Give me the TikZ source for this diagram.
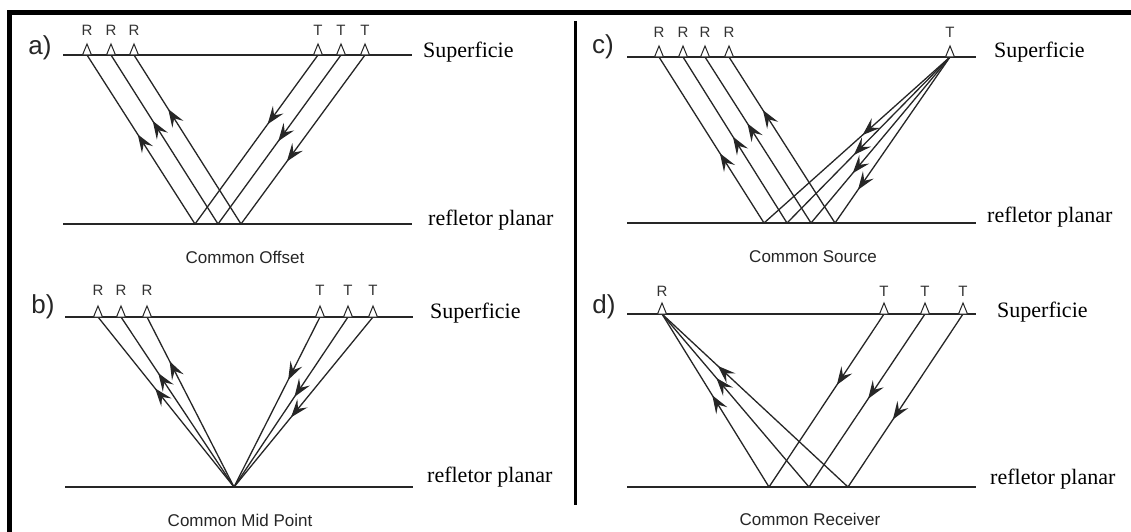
\documentclass[tikz,border=0pt]{standalone}
\usepackage{fontspec}
\setmainfont{Liberation Serif}
\newfontfamily\sansf{Liberation Sans}
\usetikzlibrary{arrows.meta,decorations.markings}
\begin{document}
\begin{tikzpicture}[x=1pt,y=-1pt,
  ground/.style={line width=1.5pt, draw=black!85},
  raypath/.style={line width=1.3pt, draw=black!85, postaction={decorate},
    decoration={markings, mark=at position #1 with {\arrow[black!85]{Stealth[length=18pt,width=13pt,inset=7pt]}}}},
  sensorlab/.style={font=\sansf\fontsize{15}{15}\selectfont, inner sep=0pt, text=black!80},
  panellab/.style={font=\sansf\fontsize{26}{26}\selectfont, inner sep=0pt, text=black!85},
  captionlab/.style={font=\sansf\fontsize{17}{17}\selectfont, inner sep=0pt, text=black!85},
  layerlab/.style={font=\fontsize{22}{22}\selectfont, inner sep=0pt, anchor=west},
  sensor/.pic={\draw[line width=1pt, draw=black!85, fill=white] (-4.5,0) -- (0,-11) -- (4.5,0) -- cycle;}
]
\useasboundingbox (0,0) rectangle (1131,532);
\fill[white] (0,0) rectangle (1131,532);
% frame and divider
\coordinate (frA) at (9.5,532);
\coordinate (frB) at (9.5,12.5);
\coordinate (frC) at (1131,12.5);
\draw[line width=5pt] (frA) -- (frB) -- (frC);
\coordinate (dvA) at (575.5,21);
\coordinate (dvB) at (575.5,505);
\draw[line width=2.5pt] (dvA) -- (dvB);

% ================= panel a =================
\node[panellab] (alab) at (40,48) {a)};
\coordinate (aS1) at (63,55);  \coordinate (aS2) at (412,55);
\coordinate (aF1) at (63,224); \coordinate (aF2) at (412,224);
\draw[ground] (aS1) -- (aS2);
\draw[ground] (aF1) -- (aF2);
\node[layerlab] (asup) at (423,52) {Superficie};
\node[layerlab] (aref) at (428,220) {refletor planar};
\coordinate (aR1) at (87,55);  \coordinate (aR2) at (111,55);  \coordinate (aR3) at (134,55);
\coordinate (aT1) at (318,55); \coordinate (aT2) at (341,55);  \coordinate (aT3) at (365,55);
\coordinate (aP1) at (195,224); \coordinate (aP2) at (218,224); \coordinate (aP3) at (241,224);
\draw[raypath=0.53] (aP1) -- (aR1);
\draw[raypath=0.61] (aP2) -- (aR2);
\draw[raypath=0.68] (aP3) -- (aR3);
\draw[raypath=0.41] (aT1) -- (aP1);
\draw[raypath=0.51] (aT2) -- (aP2);
\draw[raypath=0.63] (aT3) -- (aP3);
\foreach \n in {aR1,aR2,aR3,aT1,aT2,aT3} \pic at (\n) {sensor};
\node[sensorlab] (aRl1) at (87,30) {R};
\node[sensorlab] (aRl2) at (111,30) {R};
\node[sensorlab] (aRl3) at (134,30) {R};
\node[sensorlab] (aTl1) at (318,30) {T};
\node[sensorlab] (aTl2) at (341,30) {T};
\node[sensorlab] (aTl3) at (365,30) {T};
\node[captionlab] (acap) at (245,257) {Common Offset};

% ================= panel b =================
\node[panellab] (blab) at (43,307) {b)};
\coordinate (bS1) at (65,317);  \coordinate (bS2) at (413,317);
\coordinate (bF1) at (65,487);  \coordinate (bF2) at (413,487);
\draw[ground] (bS1) -- (bS2);
\draw[ground] (bF1) -- (bF2);
\node[layerlab] (bsup) at (430,313) {Superficie};
\node[layerlab] (bref) at (427,477) {refletor planar};
\coordinate (bR1) at (98,317);  \coordinate (bR2) at (121,317); \coordinate (bR3) at (147,317);
\coordinate (bT1) at (320,317); \coordinate (bT2) at (348,317); \coordinate (bT3) at (373,317);
\coordinate (bP) at (234,487);
\draw[raypath=0.58] (bP) -- (bR1);
\draw[raypath=0.67] (bP) -- (bR2);
\draw[raypath=0.74] (bP) -- (bR3);
\draw[raypath=0.37] (bT1) -- (bP);
\draw[raypath=0.47] (bT2) -- (bP);
\draw[raypath=0.59] (bT3) -- (bP);
\foreach \n in {bR1,bR2,bR3,bT1,bT2,bT3} \pic at (\n) {sensor};
\node[sensorlab] (bRl1) at (98,290) {R};
\node[sensorlab] (bRl2) at (121,290) {R};
\node[sensorlab] (bRl3) at (147,290) {R};
\node[sensorlab] (bTl1) at (320,290) {T};
\node[sensorlab] (bTl2) at (348,290) {T};
\node[sensorlab] (bTl3) at (373,290) {T};
\node[captionlab] (bcap) at (240,520) {Common Mid Point};

% ================= panel c =================
\node[panellab] (clab) at (603,47) {c)};
\coordinate (cS1) at (627,57);  \coordinate (cS2) at (976,57);
\coordinate (cF1) at (627,223); \coordinate (cF2) at (976,223);
\draw[ground] (cS1) -- (cS2);
\draw[ground] (cF1) -- (cF2);
\node[layerlab] (csup) at (994,52) {Superficie};
\node[layerlab] (cref) at (987,217) {refletor planar};
\coordinate (cR1) at (659,57); \coordinate (cR2) at (683,57);
\coordinate (cR3) at (705,57); \coordinate (cR4) at (729,57);
\coordinate (cT) at (950,57);
\coordinate (cP1) at (764,223); \coordinate (cP2) at (787,223);
\coordinate (cP3) at (811,223); \coordinate (cP4) at (835,223);
\draw[raypath=0.42] (cP1) -- (cR1);
\draw[raypath=0.52] (cP2) -- (cR2);
\draw[raypath=0.60] (cP3) -- (cR3);
\draw[raypath=0.68] (cP4) -- (cR4);
\draw[raypath=0.47] (cT) -- (cP1);
\draw[raypath=0.59] (cT) -- (cP2);
\draw[raypath=0.70] (cT) -- (cP3);
\draw[raypath=0.80] (cT) -- (cP4);
\foreach \n in {cR1,cR2,cR3,cR4,cT} \pic at (\n) {sensor};
\node[sensorlab] (cRl1) at (659,32) {R};
\node[sensorlab] (cRl2) at (683,32) {R};
\node[sensorlab] (cRl3) at (705,32) {R};
\node[sensorlab] (cRl4) at (729,32) {R};
\node[sensorlab] (cTl) at (950,32) {T};
\node[captionlab] (ccap) at (813,257) {Common Source};

% ================= panel d =================
\node[panellab] (dlab) at (604,307) {d)};
\coordinate (dS1) at (627,314); \coordinate (dS2) at (976,314);
\coordinate (dF1) at (627,487); \coordinate (dF2) at (976,487);
\draw[ground] (dS1) -- (dS2);
\draw[ground] (dF1) -- (dF2);
\node[layerlab] (dsup) at (997,312) {Superficie};
\node[layerlab] (dref) at (990,479) {refletor planar};
\coordinate (dR) at (662,314);
\coordinate (dT1) at (884,314); \coordinate (dT2) at (925,314); \coordinate (dT3) at (963,314);
\coordinate (dP1) at (769,487); \coordinate (dP2) at (809,487); \coordinate (dP3) at (848,487);
\draw[raypath=0.53] (dP1) -- (dR);
\draw[raypath=0.63] (dP2) -- (dR);
\draw[raypath=0.70] (dP3) -- (dR);
\draw[raypath=0.41] (dT1) -- (dP1);
\draw[raypath=0.49] (dT2) -- (dP2);
\draw[raypath=0.61] (dT3) -- (dP3);
\foreach \n in {dR,dT1,dT2,dT3} \pic at (\n) {sensor};
\node[sensorlab] (dRl) at (662,291) {R};
\node[sensorlab] (dTl1) at (884,291) {T};
\node[sensorlab] (dTl2) at (925,291) {T};
\node[sensorlab] (dTl3) at (963,291) {T};
\node[captionlab] (dcap) at (810,519) {Common Receiver};
\end{tikzpicture}
\end{document}
